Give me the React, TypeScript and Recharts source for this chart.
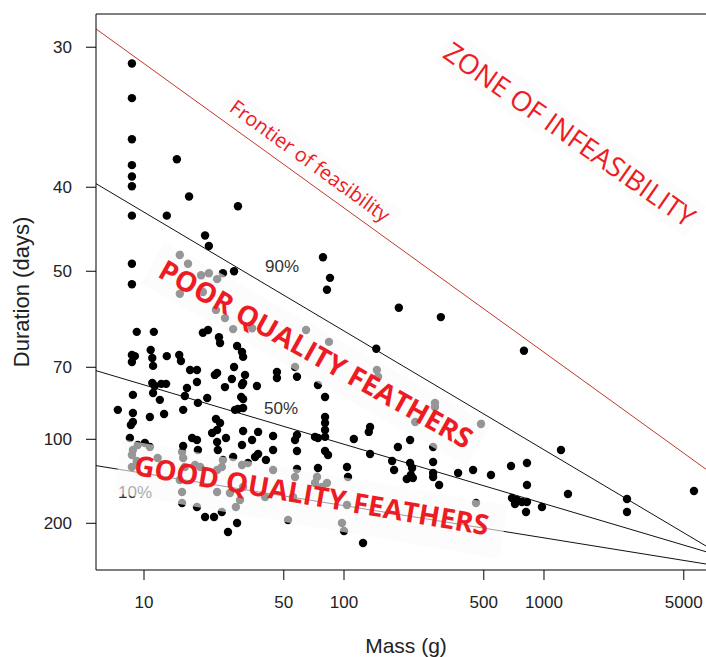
import React from 'react';
import { ScatterChart, Scatter, XAxis, YAxis, ReferenceLine } from 'recharts';

if (typeof document !== 'undefined') document.body.style.margin = '0';

// body mass (g) of each species
const massG = [
  8.7, 8.7, 8.7, 8.7, 8.7, 8.7, 8.7, 8.7, 8.7, 14.6,
  16.8, 13.0, 29.5, 20.2, 21.1, 28.2, 15.1, 16.6, 19.3, 21.1,
  23.2, 24.8, 15.1, 19.7, 22.9, 25.4, 27.9, 34.7, 64.6, 84.1,
  56.9, 58.2, 74.1, 78.5, 85.1, 82.2, 188, 305, 145, 794,
  9.2, 11.2, 19.7, 20.9, 23.7, 24.0, 8.7, 9.0, 8.7, 10.8,
  11.0, 11.1, 13.0, 15.0, 15.3, 29.2, 30.9, 31.3, 17.0, 18.4,
  22.6, 23.2, 28.2, 32.0, 31.3, 18.4, 27.5, 25.4, 36.7, 46.2,
  46.2, 11.0, 11.3, 11.1, 12.2, 12.9, 8.8, 12.0, 16.4, 16.0,
  20.7, 31.3, 31.3, 18.6, 7.4, 8.8, 8.8, 8.6, 10.7, 12.6,
  15.7, 22.9, 28.5, 29.5, 30.9, 30.6, 80.4, 80.4, 80.4, 80.4,
  80.4, 8.5, 21.9, 17.4, 18.4, 23.2, 23.4, 25.7, 31.3, 37.2,
  34.7, 44.2, 58.2, 56.9, 71.6, 74.1, 15.7, 18.6, 30.9, 44.2,
  58.2, 35.9, 37.2, 40.7, 27.9, 80.4, 83.2, 103.5, 58.2, 74.1,
  23.2, 24.0, 112, 135, 133, 135, 186, 174, 178, 214,
  219, 216, 206, 221, 279, 279, 279, 299, 372, 442,
  543, 684, 822, 822, 692, 733, 776, 822, 716, 813,
  977, 1216, 1318, 2600, 2600, 5623, 146, 148, 227, 285,
  285, 484, 214, 279, 457, 8.8, 9.3, 10.1, 10.7, 8.7,
  9.2, 8.7, 11.7, 15.5, 15.7, 16.0, 18.0, 19.1, 23.2, 24.5,
  24.8, 30.9, 33.1, 44.2, 56.9, 73.3, 82.2, 104.7, 15.1, 15.5,
  23.2, 26.9, 30.2, 31.3, 28.8, 52.5, 71.6, 77.6, 97.7, 100,
  103.5, 15.5, 18.4, 20.2, 22.4, 24.5, 29.2, 26.3, 124.5, 40.3, 55.6,
];

// moult duration (days) of each species
const durationDays = [
  30.9, 33.0, 35.9, 38.0, 39.0, 39.9, 42.9, 48.9, 52.0, 37.5,
  40.9, 42.9, 41.9, 45.2, 46.5, 50.0, 47.7, 48.9, 50.6, 50.3,
  51.2, 50.3, 53.6, 53.3, 56.5, 58.1, 60.4, 60.2, 60.6, 63.3,
  69.9, 72.9, 75.6, 48.0, 51.0, 52.9, 56.1, 57.9, 65.0, 65.5,
  61.0, 61.0, 61.2, 60.6, 62.2, 63.6, 66.6, 66.9, 68.5, 65.3,
  67.4, 69.6, 66.9, 66.6, 68.2, 64.3, 65.8, 67.1, 70.8, 70.8,
  72.3, 71.7, 69.9, 72.3, 74.9, 74.6, 73.6, 76.3, 75.9, 71.4,
  73.3, 74.9, 75.9, 78.4, 75.2, 75.2, 79.1, 81.0, 76.6, 79.5,
  80.3, 80.7, 84.3, 82.2, 85.1, 86.5, 90.7, 92.2, 88.3, 86.9,
  85.1, 89.2, 85.1, 84.7, 75.6, 79.9, 79.9, 88.3, 91.2, 94.8,
  98.6, 99.2, 96.4, 99.2, 100.4, 101.6, 106.8, 99.2, 95.3, 95.8,
  100.4, 98.1, 97.5, 100.4, 98.6, 99.2, 104.2, 106.8, 103.5, 106.8,
  107.5, 111.8, 109.6, 114.1, 111.8, 107.5, 110.3, 119.7, 121.5, 120.6,
  94.8, 91.2, 99.8, 93.2, 95.8, 109.6, 104.8, 114.8, 122.4, 116.4,
  120.6, 127.0, 130.9, 129.9, 115.6, 125.1, 128.9, 137.4, 125.1, 122.4,
  127.0, 118.9, 116.4, 137.4, 153.7, 156.6, 159.5, 159.5, 162.6, 176.3,
  167.5, 106.8, 148.3, 155.1, 176.3, 144.5, 70.8, 72.9, 90.7, 82.2,
  83.9, 91.7, 100.4, 104.8, 161.1, 106.8, 103.5, 102.3, 104.8, 110.3,
  114.8, 119.7, 112.5, 108.2, 112.5, 119.7, 118.1, 119.7, 122.4, 119.7,
  114.1, 118.1, 116.4, 122.4, 128.9, 128.9, 135.2, 128.9, 132.0, 145.7,
  145.7, 147.0, 156.6, 139.7, 167.5, 192.4, 135.2, 139.7, 199.3, 220.2,
  164.2, 161.1, 167.5, 186.0, 186.0, 176.3, 199.3, 223.1, 261.3, 152.3, 152.3,
];

const massTicks = [10, 50, 100, 500, 1000, 5000];
const durationTicks = [30, 40, 50, 70, 100, 200];
const massRange = [5.754, 6457];
const durationRange = [28.32, 450.4];

// fitted lines: duration at the two ends of the mass range
const frontierDays = [29.05, 121.7];
const q90Days = [39.66, 274.1];
const q50Days = [71.0, 302.2];
const q10Days = [118.6, 388];

// y axis runs on 1/duration
const points = massG
  .slice(0, Math.min(massG.length, durationDays.length))
  .map((m, i) => ({ mass: m, rate: 1 / durationDays[i] }));

const seg = (days: number[]) => [
  { x: massRange[0], y: 1 / days[0] },
  { x: massRange[1], y: 1 / days[1] },
];

const RED = '#ed1c24';
const BOX = 'rgba(250,250,250,0.6)';
const AXIS_FONT = '"Liberation Sans", Arial, sans-serif';

const boxed = (cx: number, cy: number, angle: number, extra: React.CSSProperties): React.CSSProperties => ({
  position: 'absolute',
  left: cx,
  top: cy,
  transform: `translate(-50%, -50%) rotate(${angle}deg)`,
  whiteSpace: 'nowrap',
  background: BOX,
  color: RED,
  fontFamily: '"Open Sans", sans-serif',
  lineHeight: 1.2,
  ...extra,
});

const pct = (cx: number, cy: number): React.CSSProperties => ({
  position: 'absolute',
  left: cx,
  top: cy,
  transform: 'translate(-50%, -50%)',
  fontFamily: AXIS_FONT,
  fontSize: 17,
  color: '#333',
  lineHeight: 1,
});

const Dot = (props: any) => <circle cx={props.cx} cy={props.cy} r={4.2} fill="#000" />;

export default function App() {
  return (
    <div style={{ position: 'relative', width: 706, height: 657, overflow: 'hidden', background: '#fff' }}>
      <ScatterChart width={706} height={657} margin={{ top: 14, right: 0, bottom: 0, left: 0 }}>
        <XAxis
          type="number"
          dataKey="mass"
          scale="log"
          domain={massRange}
          allowDataOverflow
          ticks={massTicks}
          interval={0}
          height={87}
          tickSize={10}
          tickMargin={16}
          stroke="#000"
          tick={{ fill: '#222', fontSize: 17, fontFamily: AXIS_FONT }}
          label={{ value: 'Mass (g)', position: 'insideBottom', offset: 4, dx: 5, style: { fontSize: 21, fill: '#222', fontFamily: AXIS_FONT } }}
        />
        <YAxis
          type="number"
          dataKey="rate"
          domain={[1 / durationRange[1], 1 / durationRange[0]]}
          allowDataOverflow
          ticks={durationTicks.map((d) => 1 / d)}
          tickFormatter={(v: number) => String(Math.round(1 / v))}
          interval={0}
          width={96}
          tickSize={10}
          tickMargin={14}
          stroke="#000"
          tick={{ fill: '#222', fontSize: 17, fontFamily: AXIS_FONT }}
          label={{ value: 'Duration (days)', angle: -90, position: 'insideLeft', offset: 21, style: { textAnchor: 'middle', fontSize: 22, fill: '#222', fontFamily: AXIS_FONT } }}
        />
        <ReferenceLine y={1 / durationRange[0]} stroke="#000" />
        <Scatter data={points} shape={Dot} isAnimationActive={false} />
        <ReferenceLine segment={seg(frontierDays)} stroke="#c0392b" strokeWidth={1} ifOverflow="hidden" />
        <ReferenceLine segment={seg(q90Days)} stroke="#111" strokeWidth={1} ifOverflow="hidden" />
        <ReferenceLine segment={seg(q50Days)} stroke="#111" strokeWidth={1} ifOverflow="hidden" />
        <ReferenceLine segment={seg(q10Days)} stroke="#111" strokeWidth={1} ifOverflow="hidden" />
      </ScatterChart>

      <div style={pct(282, 266)}>90%</div>
      <div style={pct(281, 408)}>50%</div>
      <div style={pct(135, 492)}>10%</div>

      <div style={boxed(570, 134, 35, { fontSize: 27.5, padding: '2px 4px' })}>ZONE OF INFEASIBILITY</div>
      <div style={boxed(310, 161, 36, { fontSize: 20, padding: '2px 8px' })}>Frontier of feasibility</div>
      <div style={boxed(316, 354, 29.3, { fontSize: 28, fontWeight: 700, padding: '7px 10px' })}>POOR QUALITY FEATHERS</div>
      <div style={boxed(311, 499, 9.7, { fontSize: 28, fontWeight: 700, padding: '6px 16px 14px' })}>GOOD QUALITY FEATHERS</div>
    </div>
  );
}
